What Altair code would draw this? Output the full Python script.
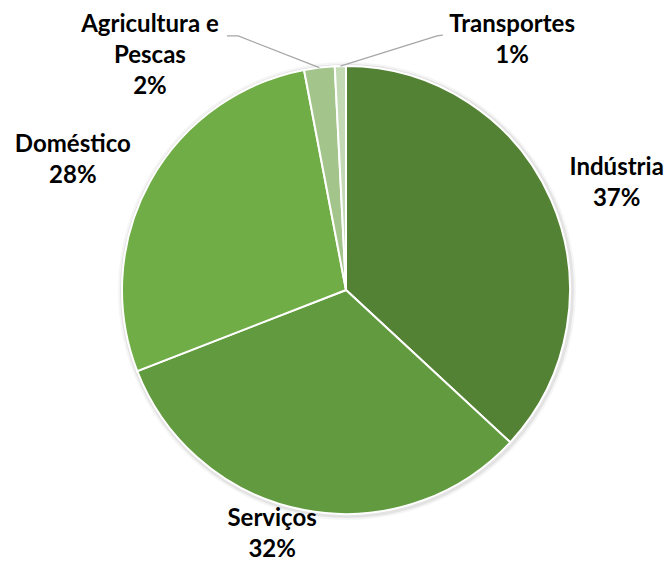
import math
import altair as alt
import pandas as pd

categories = ["Indústria", "Serviços", "Doméstico", "Agricultura e Pescas", "Transportes"]
label_names = ["Indústria", "Serviços", "Doméstico", "Agricultura e\nPescas", "Transportes"]
values = [36.9, 32.2, 27.9, 2.2, 0.8]
colors = ["#548235", "#629b3f", "#70ad47", "#a3c58c", "#c3dab5"]

# label layout: first-line baseline anchor (offset from slice mid angle in degrees, distance from centre in px)
label_angle_offset = [0.6, 6.6, -2.2, -30.4, 34.2]
label_radius = [294, 247, 306, 324, 307]

# leader lines: (angle deg, radius px) of elbow and end for the small slices
leaders = {
    "Agricultura e Pescas": [(337.0, 276.0), (334.9, 280.7)],
    "Transportes": [(19.7, 270.0), (20.8, 272.7)],
}

W, H = 656, 556
CX, CY = 338, 282
R = 224

df = pd.DataFrame({"category": categories, "value": values, "idx": list(range(len(values)))})

total = sum(values)
cum = 0.0
mids = []
for v in values:
    mids.append((cum + v / 2) / total * 360.0)
    cum += v

lab = pd.DataFrame({
    "category": categories,
    "text": [f"{n}\n{round(v):d}%" for n, v in zip(label_names, values)],
    "ang": [(m + o) % 360 for m, o in zip(mids, label_angle_offset)],
    "rad": label_radius,
})

rows = []
for cat, pts in leaders.items():
    i = categories.index(cat)
    allpts = [(mids[i], R)] + pts
    for k, (a, r) in enumerate(allpts):
        rows.append({"category": cat, "pt": k,
                     "x": CX + r * math.sin(math.radians(a)),
                     "y": CY - r * math.cos(math.radians(a))})
lines_df = pd.DataFrame(rows)

theta_enc = alt.Theta("value:Q", stack=True)
order_enc = alt.Order("idx:Q")

shadow1 = alt.Chart(df).mark_arc(outerRadius=229, color="#000000", opacity=0.04).encode(
    theta=theta_enc, order=order_enc, x=alt.value(CX + 1), y=alt.value(CY + 1))
shadow2 = alt.Chart(df).mark_arc(outerRadius=227, color="#000000", opacity=0.07).encode(
    theta=theta_enc, order=order_enc, x=alt.value(CX + 1), y=alt.value(CY + 1))

arcs = alt.Chart(df).mark_arc(outerRadius=R, stroke="white", strokeWidth=2).encode(
    theta=theta_enc,
    order=order_enc,
    color=alt.Color("category:N", scale=alt.Scale(domain=categories, range=colors), legend=None),
    x=alt.value(CX), y=alt.value(CY),
)

leader_lines = alt.Chart(lines_df).mark_line(color="#a6a6a6", strokeWidth=1.2).encode(
    x=alt.X("x:Q", scale=None),
    y=alt.Y("y:Q", scale=None),
    detail="category:N",
    order="pt:Q",
)

labels = alt.Chart(lab).mark_text(
    font="Lato", fontWeight="bold", fontSize=24, lineBreak="\n", lineHeight=31,
    align="center", baseline="alphabetic", color="#000000",
).encode(
    theta=alt.Theta("ang:Q", scale=alt.Scale(domain=[0, 360], range=[0, 2 * math.pi])),
    radius=alt.Radius("rad:Q", scale=None),
    text="text:N",
    x=alt.value(CX), y=alt.value(CY),
)

chart = alt.layer(shadow1, shadow2, arcs, leader_lines, labels).resolve_scale(
    theta="independent"
).properties(
    width=W, height=H, padding=0, autosize=alt.AutoSizeParams(type="none")
).configure_view(stroke=None)

chart.save("out.html", embed_options={"renderer": "svg", "actions": False})
